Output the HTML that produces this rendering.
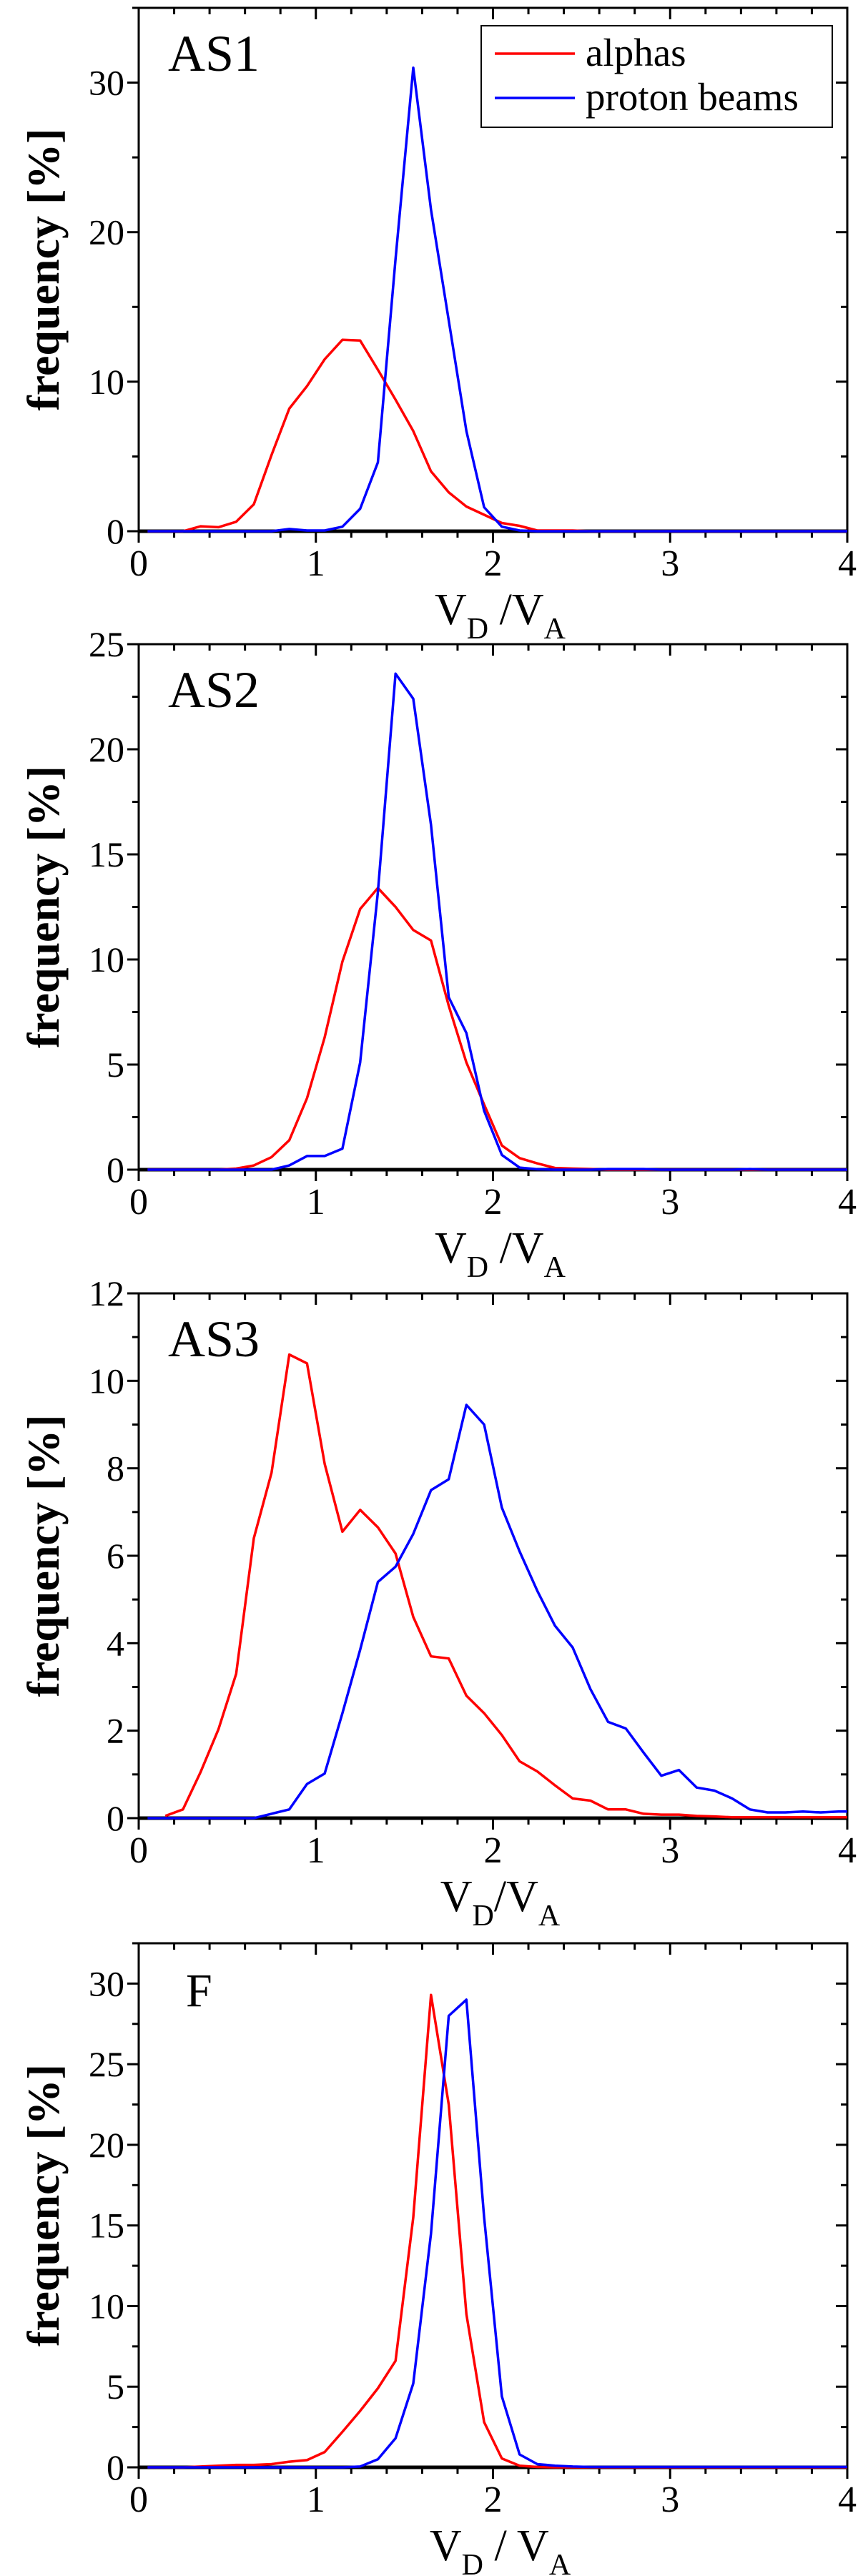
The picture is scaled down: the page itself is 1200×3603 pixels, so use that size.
<!DOCTYPE html>
<html><head><meta charset="utf-8"><style>
html,body{margin:0;padding:0;background:#fff;}
svg{display:block;}
text{font-family:"Liberation Serif",serif;fill:#000;}
</style></head><body>
<svg id="fig" width="1200" height="3603" viewBox="0 0 1200 3603" xmlns="http://www.w3.org/2000/svg"></svg>
<script>
const xCenters = [0.05,0.15,0.25,0.35,0.45,0.55,0.65,0.75,0.85,0.95,1.05,1.15,1.25,1.35,1.45,1.55,1.65,1.75,1.85,1.95,2.05,2.15,2.25,2.35,2.45,2.55,2.65,2.75,2.85,2.95,3.05,3.15,3.25,3.35,3.45,3.55,3.65,3.75,3.85,3.95];
const xTicks = [0,1,2,3,4];
const panelNames = ["AS1","AS2","AS3","F"];
const yMaxes = [35,25,12,32.5];
const yMajor = [10,5,2,5];
const yMinor = [5,2.5,1,2.5];
const as1Alphas = [0,0,0,0.33,0.27,0.63,1.8,5.1,8.2,9.7,11.5,12.8,12.75,10.8,8.8,6.7,4.0,2.6,1.65,1.1,0.55,0.36,0.05,0.05,0.05,0,0,0,0,0,0,0,0,0,0,0,0,0,0,0];
const as1Protons = [0,0,0,0,0,0,0,0,0.15,0.05,0.05,0.3,1.5,4.6,18.2,31,21.5,14.1,6.7,1.6,0.3,0.05,0,0,0,0,0,0,0,0,0,0,0,0,0,0,0,0,0,0];
const as2Alphas = [0,0,0,0,0,0.05,0.2,0.6,1.4,3.4,6.3,9.9,12.4,13.4,12.5,11.4,10.9,7.8,5.1,3.1,1.15,0.55,0.3,0.08,0.05,0.03,0,0,0,0,0,0,0,0,0,0,0,0,0,0];
const as2Protons = [0,0,0,0,0,0,0,0,0.2,0.65,0.65,1.0,5.1,13.2,23.6,22.4,16.4,8.2,6.5,2.8,0.7,0.1,0.02,0,0,0,0.03,0.03,0.03,0,0,0,0,0,0.03,0,0,0,0,0];
const as3Alphas = [null,0.05,0.2,1.06,2.03,3.3,6.4,7.9,10.6,10.4,8.1,6.55,7.05,6.65,6.05,4.6,3.7,3.65,2.8,2.4,1.9,1.3,1.07,0.75,0.45,0.4,0.2,0.2,0.1,0.08,0.08,0.05,0.04,0.02,0.02,0.02,0.02,0.02,0.02,0.02];
const as3Protons = [0,0,0,0,0,0,0,0.1,0.2,0.78,1.02,2.4,3.85,5.4,5.75,6.5,7.5,7.75,9.45,9.0,7.1,6.1,5.2,4.4,3.9,2.95,2.2,2.05,1.5,0.97,1.1,0.7,0.63,0.45,0.2,0.13,0.13,0.15,0.13,0.15];
const fAlphas = [0,0,0,0.05,0.1,0.15,0.15,0.2,0.35,0.45,0.95,2.2,3.5,4.9,6.6,15.5,29.3,22.5,9.5,2.8,0.55,0.1,0.02,0,0,0,0,0,0,0,0,0,0,0,0,0,0,0,0,0];
const fProtons = [0,0,0,0,0,0,0,0,0,0,0,0,0.05,0.5,1.8,5.2,14.5,28.0,29.0,15.5,4.4,0.8,0.2,0.1,0.05,0.02,0.02,0.02,0.02,0.02,0.02,0.02,0.02,0.02,0.02,0.02,0.02,0.02,0.02,0.02];
const alphaSeries = [as1Alphas,as2Alphas,as3Alphas,fAlphas];
const protonSeries = [as1Protons,as2Protons,as3Protons,fProtons];
const xTitles = ["V_D /V_A","V_D /V_A","V_D/V_A","V_D / V_A"];

const NS="http://www.w3.org/2000/svg";
const svg=document.getElementById('fig');
function mk(tag,attrs,parent){const e=document.createElementNS(NS,tag);for(const k in attrs)e.setAttribute(k,attrs[k]);(parent||svg).appendChild(e);return e;}
const L=194,R=1185;
const tops=[11,901,1809,2718];
const bottoms=[743,1636,2543,3451];
function xs(v){return L+(R-L)*v/4;}

for(let p=0;p<4;p++){
  const T=tops[p],B=bottoms[p],ym=yMaxes[p];
  const ys=v=>B-(B-T)*v/ym;
  const g=mk('g',{});
  
  
  // x ticks
  for(let i=0;i<=20;i++){
    const v=i*0.2,X=xs(v),maj=(i%5===0),len=maj?16:9;
    const t1=mk('line',{x1:X,y1:B,x2:X,y2:B+len,stroke:'#000','stroke-width':3},g);
    
    
    const t2=mk('line',{x1:X,y1:T,x2:X,y2:T+len,stroke:'#000','stroke-width':3},g);
    
    
  }
  xTicks.forEach(v=>{
    const t=mk('text',{x:xs(v),y:B+62,'font-size':52,'text-anchor':'middle'},g);
    t.textContent=v;
    
    
  });
  // y ticks
  for(let v=0;v<=ym+1e-9;v+=yMinor[p]){
    const Y=ys(v),maj=Math.abs(v/yMajor[p]-Math.round(v/yMajor[p]))<1e-6,len=maj?16:9;
    const t1=mk('line',{x1:L-len,y1:Y,x2:L,y2:Y,stroke:'#000','stroke-width':3},g);
    
    
    const t2=mk('line',{x1:R-len,y1:Y,x2:R,y2:Y,stroke:'#000','stroke-width':3},g);
    
    
    if(maj){
      const t=mk('text',{x:L-20,y:Y+17,'font-size':50,'text-anchor':'end'},g);
      t.textContent=Math.round(v);
      
      
    }
  }
  const fr=mk('rect',{x:L,y:T,width:R-L,height:B-T,fill:'none',stroke:'#000','stroke-width':3},g);
  
  
  const zl=mk('line',{x1:L,y1:B,x2:R,y2:B,stroke:'#000','stroke-width':5},g);
  
  
  // series
  [[alphaSeries[p],'#ff0000','alphas-line'],[protonSeries[p],'#0000ff','proton-beams-line']].forEach(([arr,col,nm])=>{
    let d='';
    arr.forEach((v,i)=>{if(v===null)return;d+=(d?'L':'M')+xs(xCenters[i]).toFixed(1)+','+ys(v).toFixed(1);});
    d+='L'+xs(4).toFixed(1)+','+ys(arr[arr.length-1]).toFixed(1);
    const pth=mk('path',{d:d,fill:'none',stroke:col,'stroke-width':3.5,'stroke-linejoin':'round'},g);
    
    
  });
  // panel label
  const pl=mk('text',{x:p===3?260:235,y:T+88,'font-size':p===3?66:72},g);
  pl.textContent=panelNames[p];
  
  
  // y title
  const yc=(T+B)/2;
  const yt=mk('text',{x:0,y:0,'font-size':64,'font-weight':'bold','text-anchor':'middle',transform:'translate(82,'+yc+') rotate(-90)'},g);
  yt.textContent='frequency [%]';
  
  
  // x title
  const parts=xTitles[p].split('_');
  const xt=mk('text',{x:(L+R)/2+10,y:B+130,'font-size':62,'text-anchor':'middle'},g);
  
  
  const s1=mk('tspan',{},xt);s1.textContent='V';
  const sD=mk('tspan',{dy:20,'font-size':42},xt);sD.textContent='D';
  const mid=parts[1].replace('V','');
  const s2=mk('tspan',{dy:-20},xt);s2.textContent=mid.replace('D','')+'V';
  const sA=mk('tspan',{dy:20,'font-size':42},xt);sA.textContent='A';
}
// legend
const lg=mk('g',{});


mk('rect',{x:673,y:36,width:491,height:142,fill:'#fff',stroke:'#000','stroke-width':2},lg);
const l1=mk('line',{x1:692,y1:75,x2:804,y2:75,stroke:'#ff0000','stroke-width':3.5},lg);


const t1=mk('text',{x:819,y:92,'font-size':55},lg);t1.textContent='alphas';


const l2=mk('line',{x1:692,y1:137,x2:804,y2:137,stroke:'#0000ff','stroke-width':3.5},lg);


const t2=mk('text',{x:819,y:154,'font-size':55},lg);t2.textContent='proton beams';


</script>
</body></html>
